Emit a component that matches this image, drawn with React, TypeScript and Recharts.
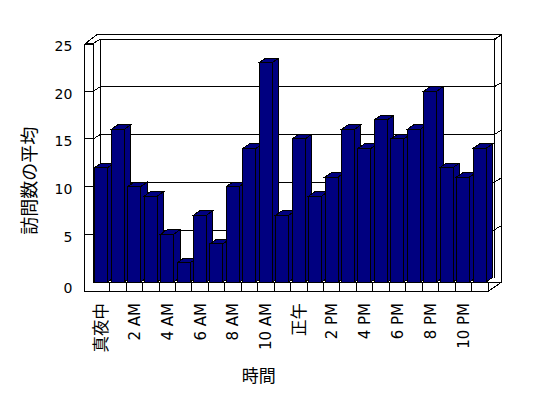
import React from 'react';
import { BarChart, Bar, XAxis, YAxis, CartesianGrid, ReferenceArea } from 'recharts';

// hour of day (only every other one gets a label on the axis)
const hours = [
  '真夜中', '1 AM', '2 AM', '3 AM', '4 AM', '5 AM', '6 AM', '7 AM', '8 AM', '9 AM', '10 AM', '11 AM',
  '正午', '1 PM', '2 PM', '3 PM', '4 PM', '5 PM', '6 PM', '7 PM', '8 PM', '9 PM', '10 PM', '11 PM',
];
const avgVisits = [12, 16, 10, 9, 5, 2, 7, 4, 10, 14, 23, 7, 15, 9, 11, 16, 14, 17, 15, 16, 20, 12, 11, 14];
const valueTicks = [0, 5, 10, 15, 20, 25];

const rows = hours.map((hour, i) => ({ hour, visits: avgVisits[i] }));

const NAVY = '#000080';
const INK = '#000';
const LATIN = "'DejaVu Sans', 'Noto Sans CJK JP', sans-serif";
const CJK = "'Noto Sans CJK JP', sans-serif";

// fake 3d: depth offsets of the box
const DX = 6.7;
const DY = 4.3;
const WALL = 8.6;

function Column3D(props: any) {
  const { x, y, width, height } = props;
  if (height == null || isNaN(height)) return null;
  const dx = 6.5;
  const dy = 4.5;
  return (
    <g stroke={INK} strokeWidth={1} fill={NAVY} shapeRendering="crispEdges">
      <polygon points={`${x},${y} ${x + dx},${y - dy} ${x + width + dx},${y - dy} ${x + width},${y}`} />
      <polygon
        points={`${x + width},${y} ${x + width + dx},${y - dy} ${x + width + dx},${y + height - dy} ${x + width},${y + height}`}
      />
      <rect x={x} y={y} width={width} height={height} />
    </g>
  );
}

function GridRow(props: any) {
  const { x1, x2, y1 } = props;
  const bottom = props.y + props.height;
  if (Math.abs(y1 - bottom) < 1) return <g />;
  const yb = y1 - DY;
  const d = `M${x1 - WALL},${y1} L${x1},${y1} L${x1 + DX},${yb} L${x2 + 6},${yb} L${x2 + 12.7},${yb - 4}`;
  return <path d={d} stroke={INK} strokeWidth={1} fill="none" shapeRendering="crispEdges" />;
}

function Frame(props: any) {
  const { x, y, width, height } = props;
  const L = x;
  const R = x + width;
  const T = y;
  const B = y + height;
  const F = B + 9.5;
  const cells = hours.map((_, i) => L + (width * i) / hours.length).slice(1);
  const segs: number[][] = [
    [L - WALL, T + 0.5, L - WALL, F],
    [L, T + 0.5, L, B],
    [L - WALL, T + 0.5, L, T + 0.5],
    [L - WALL, T + 0.5, L + 4.7, T - 9.5],
    [L + 4.7, T - 9.5, R + 13.7, T - 9.5],
    [R + 6.7, T - 3.5, R + 13.7, T - 9.5],
    [L + DX, T - 3.5, L + DX, B - 4],
    [R + 6.7, T - 3.5, R + 6.7, B - 4],
    [R + 13.7, T - 9.5, R + 13.7, B],
    [L, B, R + 13.7, B],
    [L - WALL, F, R, F],
    [R, B, R, F],
    [R, F, R + 13.7, B],
    ...cells.map((cx) => [cx, B, cx, F]),
  ];
  return (
    <g stroke={INK} strokeWidth={1} fill="none" shapeRendering="crispEdges">
      {segs.map((s, i) => (
        <line key={i} x1={s[0]} y1={s[1]} x2={s[2]} y2={s[3]} />
      ))}
    </g>
  );
}

function HourTick({ x, y, payload }: any) {
  const label = String(payload.value);
  const wide = !/[A-Za-z0-9]/.test(label);
  return (
    <text
      x={x}
      y={y}
      transform={`rotate(-90, ${x}, ${y})`}
      textAnchor="end"
      dy="0.36em"
      fontSize={wide ? 16.5 : 15}
      fontFamily={wide ? CJK : LATIN}
      fill={INK}
    >
      {label}
    </text>
  );
}

function ValueTick({ x, y, payload }: any) {
  return (
    <text x={x} y={y} dy={payload.value === 0 ? 11 : 7.3} textAnchor="end" fontSize={14} fontFamily={LATIN} fill={INK}>
      {payload.value}
    </text>
  );
}

function YTitle({ viewBox }: any) {
  const cx = viewBox.x + 28;
  const cy = viewBox.y + viewBox.height / 2 + 18;
  return (
    <text
      x={cx}
      y={cy}
      transform={`rotate(-90, ${cx}, ${cy})`}
      textAnchor="middle"
      dominantBaseline="central"
      fontSize={18}
      fontFamily={CJK}
      fill={INK}
    >
      訪問数の平均
    </text>
  );
}

function XTitle({ viewBox }: any) {
  const cx = viewBox.x + viewBox.width / 2 - 32;
  const cy = viewBox.y + 92;
  return (
    <text x={cx} y={cy} textAnchor="middle" dominantBaseline="central" fontSize={17} fontFamily={CJK} fill={INK}>
      時間
    </text>
  );
}

export default function App() {
  return (
    <div style={{ position: 'absolute', left: 0, top: 0, width: 548, height: 398, background: '#fff' }}>
      <BarChart
        width={548}
        height={398}
        data={rows}
        margin={{ top: 43.5, right: 60, bottom: 0, left: 0 }}
        barCategoryGap="9%"
      >
        <CartesianGrid vertical={false} horizontal={GridRow} />
        <ReferenceArea y1={0} y2={25} ifOverflow="visible" shape={Frame} />
        <XAxis
          dataKey="hour"
          height={116}
          interval={1}
          axisLine={false}
          tickLine={false}
          tickSize={0}
          tickMargin={21}
          tick={<HourTick />}
          label={{ content: XTitle }}
        />
        <YAxis
          domain={[0, 25]}
          ticks={valueTicks}
          width={93.3}
          axisLine={false}
          tickLine={false}
          tickSize={0}
          tickMargin={21}
          tick={<ValueTick />}
          label={{ content: YTitle }}
        />
        <Bar dataKey="visits" shape={Column3D} isAnimationActive={false} />
      </BarChart>
    </div>
  );
}
